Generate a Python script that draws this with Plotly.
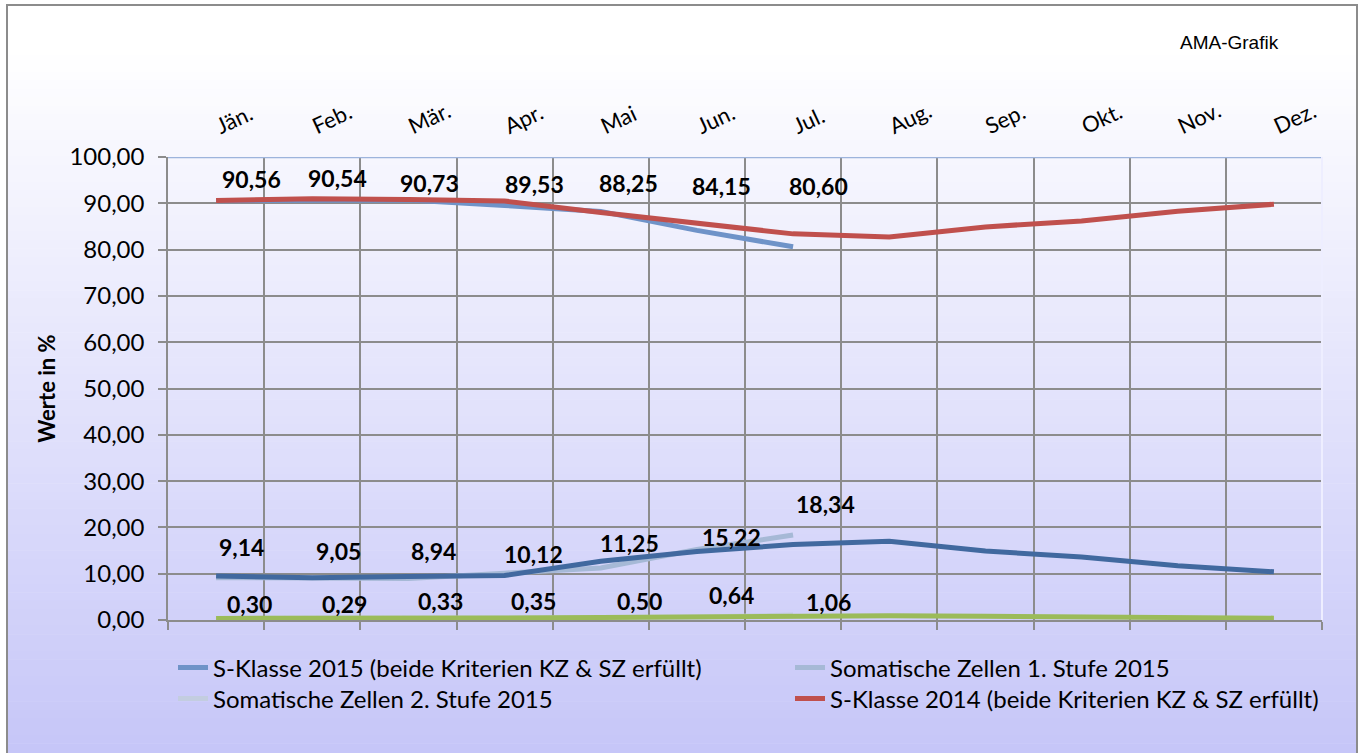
import plotly.graph_objects as go

# ---------------- data ----------------
months = ["Jän.", "Feb.", "Mär.", "Apr.", "Mai", "Jun.", "Jul.", "Aug.", "Sep.", "Okt.", "Nov.", "Dez."]
s_klasse_2015 = [90.56, 90.54, 90.73, 89.53, 88.25, 84.15, 80.60]
sz1_2015 = [9.14, 9.05, 8.94, 10.12, 11.25, 15.22, 18.34]
sz2_2015 = [0.30, 0.29, 0.33, 0.35, 0.50, 0.64, 1.06]
s_klasse_2014 = [90.6, 91.0, 90.8, 90.5, 88.0, 85.7, 83.4, 82.7, 84.9, 86.2, 88.3, 89.8]
sz1_2014 = [9.5, 9.1, 9.4, 9.6, 12.7, 14.8, 16.3, 17.0, 14.9, 13.6, 11.7, 10.4]
sz2_2014 = [0.35, 0.33, 0.38, 0.42, 0.55, 0.75, 0.95, 0.9, 0.8, 0.65, 0.5, 0.4]

names = {
    "sk15": "S-Klasse 2015 (beide Kriterien KZ & SZ erfüllt)",
    "sz1": "Somatische Zellen 1. Stufe 2015",
    "sz2": "Somatische Zellen 2. Stufe 2015",
    "sk14": "S-Klasse 2014 (beide Kriterien KZ & SZ erfüllt)",
}

# ---------------- label placement (style) ----------------
lbl_sk15_y = [95.2, 95.4, 94.3, 94.2, 94.4, 93.7, 93.7]
lbl_sk15_dx = [35, 25, 21, 30, 28, 25, 25]
lbl_sz1_y = [15.8, 14.8, 14.8, 14.3, 16.7, 18.0, 25.0]
lbl_sz1_dx = [25, 26, 25, 29, 29, 35, 32]
lbl_sz2_y = [3.5, 3.5, 4.2, 4.2, 4.2, 5.4, 3.9]
lbl_sz2_dx = [33, 32, 32, 29, 39, 35, 35]

FONT = "Lato, 'Open Sans', sans-serif"
W, H = 1363, 753
ML, MR, MT, MB = 168, 41, 40, 133
PW, PH = W - ML - MR, H - MT - MB
PLOT_TOP = 157


def px_x(p):
    return (p - ML) / PW


def px_y(p):
    return (H - MB - p) / PH


x_all = list(range(12))

fig = go.Figure()

line_w = 5
fig.add_trace(go.Scatter(x=x_all[:len(s_klasse_2015)], y=s_klasse_2015, mode="lines",
                         name=names["sk15"], line=dict(color="#6f93c8", width=line_w), legend="legend"))
fig.add_trace(go.Scatter(x=x_all[:len(sz1_2015)], y=sz1_2015, mode="lines",
                         name=names["sz1"], line=dict(color="#a6b9d6", width=line_w), legend="legend2"))
fig.add_trace(go.Scatter(x=x_all[:len(sz2_2015)], y=sz2_2015, mode="lines",
                         name=names["sz2"], line=dict(color="#c3cde0", width=line_w), legend="legend3"))
fig.add_trace(go.Scatter(x=x_all, y=s_klasse_2014, mode="lines",
                         name=names["sk14"], line=dict(color="#c0504d", width=line_w), legend="legend4"))
fig.add_trace(go.Scatter(x=x_all, y=sz1_2014, mode="lines", showlegend=False,
                         name="Somatische Zellen 1. Stufe 2014", line=dict(color="#41699f", width=line_w)))
fig.add_trace(go.Scatter(x=x_all, y=sz2_2014, mode="lines", showlegend=False,
                         name="Somatische Zellen 2. Stufe 2014", line=dict(color="#9bbb59", width=line_w)))

# data labels
annotations = []
for vals, ly, dx in [(s_klasse_2015, lbl_sk15_y, lbl_sk15_dx),
                     (sz1_2015, lbl_sz1_y, lbl_sz1_dx),
                     (sz2_2015, lbl_sz2_y, lbl_sz2_dx)]:
    for i, v in enumerate(vals):
        annotations.append(dict(
            x=i, y=ly[i], xref="x", yref="y", xshift=dx[i],
            text=f"{v:.2f}".replace(".", ","), showarrow=False,
            font=dict(family=FONT, size=23, color="#000000", weight="bold"),
        ))

annotations.append(dict(
    x=px_x(1229), y=px_y(43), xref="paper", yref="paper", xanchor="center", yanchor="middle",
    text="AMA-Grafik", showarrow=False,
    font=dict(family="'Liberation Sans', Arial, sans-serif", size=19, color="#000"),
))

# background gradient bands
shapes = []
N = 90
top, bottom = 5, 760
for k in range(N):
    y0 = top + (bottom - top) * k / N
    y1 = top + (bottom - top) * (k + 1) / N + 0.5
    ym = (y0 + y1) / 2
    t = max(0.0, min(1.0, (ym - 50) / 703))
    r = round(255 - 57 * t)
    b = round(255 - 7 * t)
    shapes.append(dict(type="rect", xref="paper", yref="paper",
                       x0=px_x(7), x1=px_x(1357), y0=px_y(y1), y1=px_y(y0),
                       fillcolor=f"rgb({r},{r},{b})", line=dict(width=0), layer="below"))
shapes.append(dict(type="rect", xref="paper", yref="paper",
                   x0=px_x(7), x1=px_x(1357), y0=px_y(770), y1=px_y(5),
                   fillcolor="rgba(0,0,0,0)", line=dict(color="#8c8c8c", width=2), layer="below"))
# top border of plot area
shapes.append(dict(type="line", xref="paper", yref="y", x0=0, x1=1, y0=100, y1=100,
                   line=dict(color="#9db4dc", width=2.5), layer="above"))
# light right border of plot area
shapes.append(dict(type="line", xref="paper", yref="y", x0=1, x1=1, y0=0, y1=100,
                   line=dict(color="#eeeeff", width=2), layer="above"))

ydom_top = px_y(PLOT_TOP)


def legend_at(xp, yp):
    return dict(
        orientation="v", x=px_x(xp), y=px_y(yp), xanchor="left", yanchor="middle",
        bgcolor="rgba(0,0,0,0)", font=dict(family=FONT, size=24, color="#000"),
        tracegroupgap=0, itemwidth=30,
    )


fig.update_layout(
    width=W, height=H,
    margin=dict(l=ML, r=MR, t=MT, b=MB),
    paper_bgcolor="white",
    plot_bgcolor="rgba(0,0,0,0)",
    separators=",.",
    font=dict(family=FONT, color="#000"),
    showlegend=True,
    xaxis=dict(
        range=[-0.5, 11.5], tickvals=[i - 0.5 for i in range(13)], ticktext=[""] * 13,
        showgrid=True, gridcolor="#8c8c8c", gridwidth=1.5,
        ticks="outside", ticklen=8, tickcolor="#8c8c8c", tickwidth=1.5,
        showline=True, linecolor="#8c8c8c", linewidth=1.5, zeroline=False,
    ),
    xaxis2=dict(
        range=[-0.5, 11.5], overlaying="x", side="top", anchor="free",
        position=px_y(140), tickvals=x_all, ticktext=months, tickangle=-25,
        showgrid=False, showline=False, ticks="", zeroline=False,
        tickfont=dict(family=FONT, size=22, color="#000"),
    ),
    yaxis=dict(
        domain=[0, ydom_top], range=[0, 100], dtick=10, tickformat=".2f",
        showgrid=True, gridcolor="#8c8c8c", gridwidth=1.5,
        ticks="outside", ticklen=8, tickcolor="#8c8c8c", tickwidth=1.5,
        showline=True, linecolor="#8c8c8c", linewidth=1.5, zeroline=False,
        tickfont=dict(family=FONT, size=24, color="#000"),
        ticklabelstandoff=9,
        title=dict(text="<b>Werte in %</b>", font=dict(family=FONT, size=22, color="#000"), standoff=8),
    ),
    legend=legend_at(173, 668),
    legend2=legend_at(790, 668),
    legend3=legend_at(173, 699),
    legend4=legend_at(790, 699),
    annotations=annotations,
    shapes=shapes,
)

# a dummy trace to activate xaxis2
fig.add_trace(go.Scatter(x=[0], y=[None], xaxis="x2", showlegend=False, hoverinfo="skip"))

fig.write_html("out.html", config={"displayModeBar": False},
               post_script="document.body.style.margin='0';document.body.style.overflow='hidden';")
